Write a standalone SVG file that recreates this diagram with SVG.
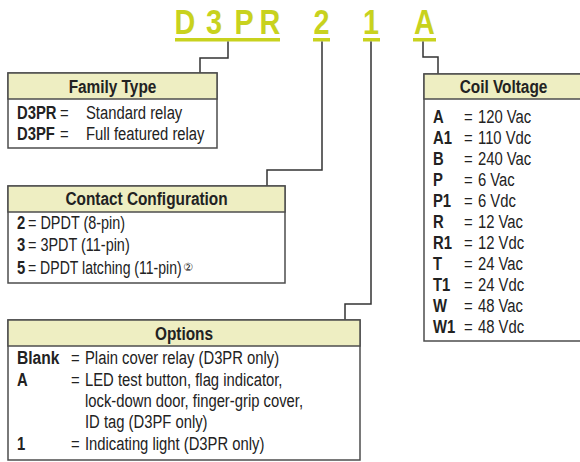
<svg xmlns="http://www.w3.org/2000/svg" width="580" height="462" viewBox="0 0 580 462">
<style>
.t{font-family:"Liberation Sans",Arial,sans-serif;font-size:36px;font-weight:bold;fill:#c8d21e;text-anchor:middle}
.ul{fill:#c8d21e}
.box{fill:#fff;stroke:#4d4d4d;stroke-width:1.5}
.hd{fill:#eeeec2;stroke:#4d4d4d;stroke-width:1.5}
.h{font-family:"Liberation Sans",Arial,sans-serif;font-size:19px;font-weight:bold;fill:#222;text-anchor:middle}
.b{font-family:"Liberation Sans",Arial,sans-serif;font-size:19px;fill:#222}
.k{font-weight:bold}
.c{fill:none;stroke:#333;stroke-width:1.5}
.n{font-family:"DejaVu Sans",sans-serif;font-size:11px;fill:#222}
</style>
<g id="title">
<text class="t" transform="translate(185 34) scale(.8 1)">D</text>
<text class="t" transform="translate(214 34) scale(.8 1)">3</text>
<text class="t" transform="translate(244 34) scale(.8 1)">P</text>
<text class="t" transform="translate(270 34) scale(.8 1)">R</text>
<text class="t" transform="translate(321.5 34) scale(.8 1)">2</text>
<text class="t" transform="translate(371 34) scale(.8 1)">1</text>
<text class="t" transform="translate(424.5 34) scale(.8 1)">A</text>
<rect class="ul" x="175" y="38" width="105" height="3.5"/>
<rect class="ul" x="313" y="38" width="17" height="3.5"/>
<rect class="ul" x="363" y="38" width="17" height="3.5"/>
<rect class="ul" x="413" y="38" width="23" height="3.5"/>
</g>
<g id="connectors">
<path class="c" d="M228,41.5 V58 H200 V73"/>
<path class="c" d="M322,41.5 V170 H267 V186"/>
<path class="c" d="M371,41.5 V304 H345 V320"/>
<path class="c" d="M423,41.5 V57 H438 V74"/>
</g>
<g id="family">
<rect class="box" x="8" y="73" width="209" height="75"/>
<rect class="hd" x="8" y="73" width="209" height="26"/>
<text class="h" transform="translate(112.5 93) scale(.81 1)">Family Type</text>
<text class="b k" transform="translate(17 119) scale(.78 1)">D3PR</text>
<text class="b" transform="translate(60 119) scale(.78 1)">=</text>
<text class="b" transform="translate(86 119) scale(.78 1)">Standard relay</text>
<text class="b k" transform="translate(17 140) scale(.78 1)">D3PF</text>
<text class="b" transform="translate(60 140) scale(.78 1)">=</text>
<text class="b" transform="translate(86 140) scale(.78 1)">Full featured relay</text>
</g>
<g id="contact">
<rect class="box" x="8" y="186" width="277" height="97"/>
<rect class="hd" x="8" y="186" width="277" height="26"/>
<text class="h" transform="translate(146.5 205) scale(.81 1)">Contact Configuration</text>
<text class="b k" transform="translate(17 229) scale(.78 1)">2</text>
<text class="b" transform="translate(28 229) scale(.76 1)">= DPDT (8-pin)</text>
<text class="b k" transform="translate(17 251) scale(.78 1)">3</text>
<text class="b" transform="translate(28 251) scale(.76 1)">= 3PDT (11-pin)</text>
<text class="b k" transform="translate(17 274) scale(.78 1)">5</text>
<text class="b" transform="translate(28 274) scale(.74 1)">= DPDT latching (11-pin)</text>
<text class="n" x="183" y="271">②</text>
</g>
<g id="options">
<rect class="box" x="8" y="320" width="352" height="140"/>
<rect class="hd" x="8" y="320" width="352" height="26"/>
<text class="h" transform="translate(184 340) scale(.81 1)">Options</text>
<text class="b k" transform="translate(17 364) scale(.82 1)">Blank</text>
<text class="b" transform="translate(71 364) scale(.78 1)">=</text>
<text class="b" transform="translate(85 364) scale(.78 1)">Plain cover relay (D3PR only)</text>
<text class="b k" transform="translate(17 386) scale(.78 1)">A</text>
<text class="b" transform="translate(71 386) scale(.78 1)">=</text>
<text class="b" transform="translate(85 386) scale(.78 1)">LED test button, flag indicator,</text>
<text class="b" transform="translate(85 407) scale(.78 1)">lock-down door, finger-grip cover,</text>
<text class="b" transform="translate(85 428) scale(.78 1)">ID tag (D3PF only)</text>
<text class="b k" transform="translate(17 450) scale(.78 1)">1</text>
<text class="b" transform="translate(71 450) scale(.78 1)">=</text>
<text class="b" transform="translate(85 450) scale(.78 1)">Indicating light (D3PR only)</text>
</g>
<g id="coil">
<rect class="box" x="424" y="74" width="170" height="267"/>
<rect class="hd" x="424" y="74" width="170" height="25"/>
<text class="h" transform="translate(503.5 93) scale(.81 1)">Coil Voltage</text>
<text class="b k" transform="translate(433 123) scale(.78 1)">A</text><text class="b" transform="translate(464 123) scale(.78 1)">=</text><text class="b" transform="translate(478 123) scale(.78 1)">120 Vac</text>
<text class="b k" transform="translate(433 144) scale(.78 1)">A1</text><text class="b" transform="translate(464 144) scale(.78 1)">=</text><text class="b" transform="translate(478 144) scale(.78 1)">110 Vdc</text>
<text class="b k" transform="translate(433 165) scale(.78 1)">B</text><text class="b" transform="translate(464 165) scale(.78 1)">=</text><text class="b" transform="translate(478 165) scale(.78 1)">240 Vac</text>
<text class="b k" transform="translate(433 186) scale(.78 1)">P</text><text class="b" transform="translate(464 186) scale(.78 1)">=</text><text class="b" transform="translate(478 186) scale(.78 1)">6 Vac</text>
<text class="b k" transform="translate(433 207) scale(.78 1)">P1</text><text class="b" transform="translate(464 207) scale(.78 1)">=</text><text class="b" transform="translate(478 207) scale(.78 1)">6 Vdc</text>
<text class="b k" transform="translate(433 228) scale(.78 1)">R</text><text class="b" transform="translate(464 228) scale(.78 1)">=</text><text class="b" transform="translate(478 228) scale(.78 1)">12 Vac</text>
<text class="b k" transform="translate(433 249) scale(.78 1)">R1</text><text class="b" transform="translate(464 249) scale(.78 1)">=</text><text class="b" transform="translate(478 249) scale(.78 1)">12 Vdc</text>
<text class="b k" transform="translate(433 270) scale(.78 1)">T</text><text class="b" transform="translate(464 270) scale(.78 1)">=</text><text class="b" transform="translate(478 270) scale(.78 1)">24 Vac</text>
<text class="b k" transform="translate(433 291) scale(.78 1)">T1</text><text class="b" transform="translate(464 291) scale(.78 1)">=</text><text class="b" transform="translate(478 291) scale(.78 1)">24 Vdc</text>
<text class="b k" transform="translate(433 312) scale(.78 1)">W</text><text class="b" transform="translate(464 312) scale(.78 1)">=</text><text class="b" transform="translate(478 312) scale(.78 1)">48 Vac</text>
<text class="b k" transform="translate(433 333) scale(.78 1)">W1</text><text class="b" transform="translate(464 333) scale(.78 1)">=</text><text class="b" transform="translate(478 333) scale(.78 1)">48 Vdc</text>
</g>
</svg>
